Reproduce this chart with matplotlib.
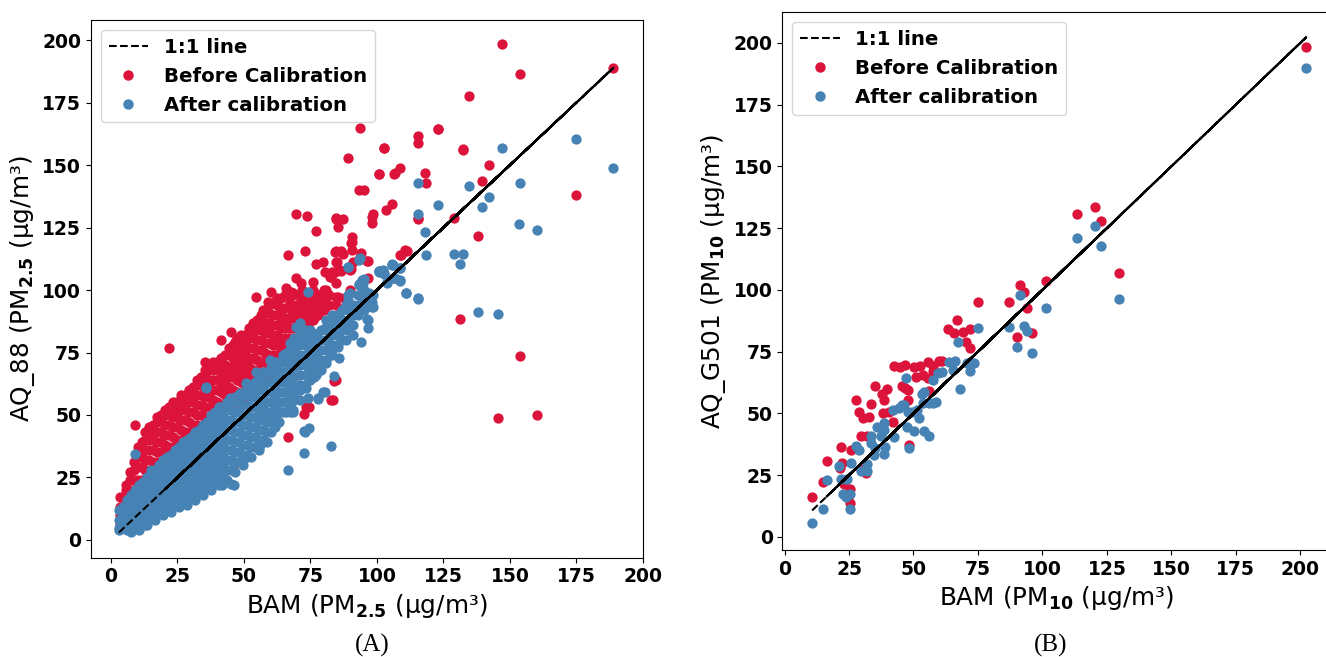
import matplotlib
matplotlib.use("Agg")
import matplotlib.pyplot as plt
from matplotlib.lines import Line2D

plt.rcParams["path.simplify"] = False  # keep every back-and-forth pass of the 1:1 line

RED = "#dc143c"   # crimson
BLUE = "#4682b4"  # steelblue

# ---------------- (A) AQ_88 vs BAM, PM2.5 ----------------
# dense part of the cloud, grouped as (BAM value, [sensor readings])
before25_core = [
    (3.5, [6, 10, 13, 17]), (5.5, [8, 12, 16, 20, 22]), (7.0, [15, 19, 24, 27]),
    (8.5, [16, 20, 24, 28, 31]), (10.0, [20, 24, 29, 33, 37]),
    (11.5, [20, 24, 29, 33, 37, 39]), (13.0, [24, 28, 32, 36, 40, 43]),
    (14.5, [23, 27, 32, 36, 40, 43, 45]), (16.0, [27, 31, 36, 40, 43, 46]),
    (17.5, [27, 31, 35, 39, 43, 47, 49]), (19.0, [30, 35, 39, 43, 47, 50]),
    (20.5, [30, 34, 38, 42, 46, 50, 52]), (22.0, [33, 37, 42, 46, 50, 53]),
    (23.5, [33, 37, 41, 45, 49, 53, 55]), (25.0, [36, 40, 45, 49, 52, 55]),
    (26.5, [36, 40, 44, 48, 52, 56, 58]), (28.0, [39, 43, 48, 52, 55, 58]),
    (29.5, [39, 43, 47, 51, 55, 59, 60]), (31.0, [42, 46, 51, 55, 58, 61]),
    (32.5, [42, 46, 50, 54, 58, 62, 64]), (34.0, [45, 50, 54, 58, 62, 65]),
    (35.5, [45, 49, 53, 57, 61, 65, 68]), (37.0, [48, 53, 57, 61, 64, 68]),
    (38.5, [48, 52, 56, 60, 64, 68, 71]), (40.0, [51, 55, 60, 64, 68, 71]),
    (41.5, [50, 54, 59, 63, 67, 71, 73]), (43.0, [53, 58, 62, 66, 70, 74]),
    (44.5, [53, 57, 61, 65, 69, 74, 77]), (46.0, [56, 60, 65, 69, 73, 78]),
    (47.5, [55, 59, 64, 68, 72, 76, 79, 81]), (49.0, [58, 63, 67, 71, 75, 79, 82]),
    (50.5, [57, 62, 66, 70, 74, 78, 82]), (52.0, [61, 65, 69, 73, 77, 81, 85]),
    (53.5, [60, 64, 68, 73, 77, 81, 85, 87]), (55.0, [64, 68, 72, 76, 80, 84, 88]),
    (56.5, [63, 67, 71, 76, 80, 84, 88, 90]), (58.0, [67, 71, 75, 79, 83, 87, 91]),
    (59.5, [66, 70, 74, 79, 83, 87, 91, 94]), (61.0, [70, 74, 78, 82, 86, 90, 95]),
    (62.5, [70, 74, 78, 82, 86, 90, 94, 97]), (64.0, [73, 77, 81, 85, 89, 93, 97]),
    (65.5, [73, 77, 81, 85, 89, 93, 98]), (67.0, [77, 81, 85, 89, 93, 97]),
    (68.5, [77, 81, 85, 89, 93, 99]), (70.0, [81, 85, 90, 94, 98]),
    (72.0, [84, 88, 92, 96, 100]), (74.0, [86, 90, 94, 98]), (76.0, [88, 92, 96, 100]),
    (78.0, [90, 94, 98]), (80.0, [92, 96, 100]), (82.0, [94, 98]),
]
before25_spread = [
    (147.1, 198.3), (153.9, 186.3), (188.9, 188.8), (134.7, 177.7), (122.9, 164.3),
    (115.5, 161.6), (115.5, 158.9), (102.7, 156.8), (93.7, 164.7), (89.3, 152.7),
    (132.4, 156.3), (142.3, 149.9), (139.5, 143.6), (175.0, 138.0), (118.0, 147.0),
    (118.3, 142.9), (108.7, 148.7), (106.5, 146.4), (100.6, 146.3), (93.2, 139.9),
    (95.1, 140.0), (105.5, 134.4), (103.5, 132.0), (98.3, 129.4), (98.3, 127.0),
    (115.5, 128.4), (129.0, 128.7), (137.8, 121.7), (69.7, 130.4), (73.8, 129.6),
    (77.1, 123.5), (84.5, 128.5), (87.2, 128.5), (85.3, 125.1), (90.7, 121.1),
    (90.7, 119.1), (90.7, 116.0), (84.5, 115.5), (86.6, 115.5), (93.7, 113.4),
    (96.4, 111.6), (110.7, 116.0), (108.7, 114.0), (66.7, 114.0), (73.1, 115.6),
    (77.1, 110.4), (84.5, 111.3), (86.2, 108.0), (90.1, 108.3), (89.7, 100.1),
    (131.3, 88.4), (153.7, 73.6), (145.5, 48.7), (160.3, 50.0), (22.0, 76.9),
    (8.9, 45.9), (66.5, 41.3), (46.0, 28.4), (82.8, 56.0), (74.4, 53.3),
    (72.4, 50.4), (76.9, 69.7), (83.9, 63.5), (79.9, 111.3), (85.5, 108.0),
    (91.0, 111.3), (80.5, 107.3), (83.0, 107.3), (82.8, 105.3), (69.7, 104.7),
    (71.6, 102.7), (65.9, 100.7), (67.8, 99.3), (60.3, 99.3), (54.7, 97.3),
    (59.0, 95.3), (61.5, 95.3), (57.2, 92.0), (58.4, 90.7), (63.4, 90.7),
    (67.2, 94.7), (75.9, 103.3), (79.7, 98.7), (80.9, 100.0), (84.7, 97.3),
    (84.7, 94.0), (87.8, 96.7), (76.5, 88.7), (64.7, 88.7), (65.9, 86.7),
    (68.4, 90.0), (70.9, 89.3), (73.4, 88.0), (54.7, 86.7), (59.0, 84.0),
    (61.5, 81.3), (63.4, 78.7), (45.3, 83.3), (41.5, 80.0), (46.5, 79.3),
    (52.2, 83.3), (50.9, 80.0), (35.3, 71.3), (37.8, 68.7), (42.1, 69.3),
    (45.9, 68.0), (73.4, 53.3), (83.4, 56.0), (84.7, 64.0), (76.5, 69.3),
    (98.4, 130.3), (84.7, 128.7), (115.3, 128.7), (90.3, 118.7), (84.4, 115.3),
    (87.2, 114.4), (85.0, 111.3), (94.0, 114.7), (96.6, 111.5), (109.0, 114.0),
    (111.2, 115.7), (84.4, 107.3), (86.5, 107.6), (89.9, 108.0), (84.7, 102.9),
    (82.2, 105.3), (85.3, 97.3), (96.6, 104.7), (123.1, 164.3), (132.5, 156.1),
    (102.8, 156.7), (100.7, 146.4), (106.6, 146.7),
]
after25_core = [
    (3.0, [4, 8, 12]), (4.5, [5, 9, 13]), (6.0, [4, 8, 12, 16]),
    (7.5, [3, 7, 11, 15, 18]), (9.0, [5, 9, 13, 17, 20]),
    (10.5, [4, 8, 12, 16, 20, 22]), (12.0, [7, 11, 15, 19, 23]),
    (13.5, [6, 10, 14, 18, 22, 25]), (15.0, [9, 13, 17, 21, 25, 28]),
    (16.5, [8, 12, 16, 20, 24, 28]), (18.0, [11, 15, 19, 23, 27, 30]),
    (19.5, [10, 14, 18, 22, 26, 30, 32]), (21.0, [13, 17, 21, 25, 29, 33]),
    (22.5, [11, 15, 19, 23, 27, 31, 34]), (24.0, [14, 18, 22, 26, 30, 34, 36]),
    (25.5, [13, 17, 21, 25, 29, 33, 37]), (27.0, [15, 19, 23, 27, 31, 35, 39]),
    (28.5, [14, 18, 22, 26, 30, 34, 38, 40]), (30.0, [17, 21, 25, 29, 33, 37, 41]),
    (31.5, [16, 20, 24, 28, 32, 36, 40, 43]), (33.0, [19, 23, 27, 31, 35, 39, 44]),
    (34.5, [18, 22, 26, 30, 34, 38, 42, 46]), (36.0, [21, 25, 29, 33, 37, 41, 45, 47]),
    (37.5, [20, 24, 28, 32, 36, 40, 44, 48, 50]),
    (39.0, [23, 27, 31, 35, 39, 43, 47, 51]),
    (40.5, [22, 26, 30, 34, 38, 42, 46, 50, 53]),
    (42.0, [25, 29, 33, 37, 41, 45, 49, 53]),
    (43.5, [24, 28, 32, 36, 40, 44, 48, 52, 55]),
    (45.0, [28, 32, 36, 40, 44, 48, 52, 55]),
    (46.5, [27, 31, 35, 39, 43, 47, 51, 55, 57]),
    (48.0, [31, 35, 39, 43, 47, 51, 55, 58]),
    (49.5, [30, 34, 38, 42, 46, 50, 54, 58]),
    (51.0, [34, 38, 42, 46, 50, 54, 58, 61]),
    (52.5, [33, 37, 41, 45, 49, 53, 57, 61]),
    (54.0, [37, 41, 45, 49, 53, 57, 61, 63]),
    (55.5, [36, 40, 44, 48, 52, 56, 60, 64]),
    (57.0, [40, 44, 48, 52, 56, 60, 64, 67]),
    (58.5, [39, 43, 47, 51, 55, 59, 63, 67]),
    (60.0, [43, 47, 51, 55, 59, 63, 67, 69]),
    (61.5, [45, 49, 53, 57, 61, 65, 69, 71]),
    (63.0, [47, 51, 55, 59, 63, 67, 71]),
    (64.5, [51, 55, 59, 63, 67, 71, 74]),
    (66.0, [51, 55, 59, 63, 67, 71, 75]),
    (67.5, [54, 56, 60, 64, 68, 72, 76, 79]),
    (69.0, [57, 61, 65, 69, 73, 77, 81]),
    (71.0, [60, 62, 66, 70, 74, 78, 82]),
    (73.0, [62, 66, 70, 74, 78, 82]), (75.0, [64, 68, 72, 76, 80, 84]),
    (77.0, [66, 70, 74, 78, 82]), (79.0, [68, 72, 76, 80, 84]),
    (81.0, [72, 76, 80, 84, 88]), (83.0, [74, 78, 82, 86, 90]),
    (85.0, [78, 82, 86, 90]), (87.0, [80, 84, 88, 92]), (89.0, [84, 88, 92, 96]),
    (91.0, [86, 90, 94]), (93.0, [90, 94, 98]), (95.0, [92, 96, 100]),
    (97.0, [95, 99]),
]
after25_spread = [
    (175.0, 160.4), (188.8, 149.0), (147.1, 156.9), (153.9, 142.7), (134.7, 141.7),
    (115.5, 142.9), (122.9, 133.9), (139.5, 133.2), (142.3, 137.1), (115.5, 130.3),
    (118.0, 123.2), (153.5, 126.4), (160.3, 124.0), (118.3, 114.0), (129.1, 114.3),
    (132.4, 114.3), (131.3, 110.3), (105.5, 110.1), (108.7, 108.8), (100.6, 107.5),
    (102.7, 106.4), (106.5, 105.0), (108.7, 103.7), (103.6, 102.7), (110.9, 98.7),
    (115.5, 96.3), (137.8, 91.3), (145.5, 90.3), (89.3, 109.1), (93.7, 112.9),
    (94.5, 104.2), (94.5, 102.3), (73.9, 99.3), (89.3, 98.0), (98.3, 95.3),
    (98.3, 93.3), (96.4, 88.3), (90.7, 92.7), (82.8, 37.7), (72.4, 34.9),
    (66.5, 28.0), (41.6, 22.0), (45.0, 22.5), (46.3, 22.0), (49.9, 32.3),
    (56.1, 37.9), (68.3, 51.3), (74.4, 44.7), (72.4, 43.7), (83.9, 65.7),
    (77.9, 56.5), (80.4, 59.3), (8.9, 34.3), (35.9, 60.8), (30.4, 17.1),
    (34.2, 19.3), (16.8, 10.0), (12.8, 5.9), (3.2, 4.7), (4.1, 12.7),
    (89.1, 109.3), (93.4, 112.0), (100.9, 107.3), (106.0, 110.0), (102.2, 108.0),
    (106.0, 104.7), (94.7, 102.7), (93.4, 102.0), (98.4, 98.0), (98.4, 93.3),
    (96.6, 88.0), (96.6, 84.7), (89.7, 98.7), (88.4, 94.0), (85.9, 90.0),
    (83.4, 86.7), (87.8, 87.3), (85.9, 82.7), (90.9, 82.0), (94.0, 79.3),
    (88.4, 80.0), (80.3, 84.7), (81.5, 79.3), (85.3, 77.3), (82.8, 75.3),
    (85.9, 72.7), (80.9, 70.7), (75.9, 82.7), (72.2, 80.0), (73.4, 73.3),
    (77.2, 72.0), (76.5, 65.3), (73.4, 60.7), (79.7, 59.3), (77.8, 56.7),
    (69.0, 56.0), (67.2, 51.3), (72.8, 43.3), (69.7, 85.3), (70.9, 86.7),
    (72.8, 84.0), (68.4, 77.3), (63.4, 70.7), (59.7, 72.0), (54.7, 67.3),
    (50.9, 62.7), (56.5, 64.0), (35.9, 61.3), (40.9, 53.3), (44.6, 56.7),
    (48.4, 58.7), (53.4, 59.3), (57.2, 53.3), (62.2, 46.7), (63.4, 51.3),
    (68.4, 52.0), (70.9, 56.0), (74.0, 56.7), (57.8, 49.3), (100.6, 107.6),
    (102.8, 106.7), (105.5, 110.3), (108.7, 108.9), (106.6, 104.9), (108.7, 104.0),
    (103.7, 103.3), (95.2, 104.4), (93.4, 102.4), (110.9, 98.7), (115.3, 96.7),
]

# ---------------- (B) AQ_G501 vs BAM, PM10 ----------------
before10 = [
    (10.7, 16.2), (15.0, 22.1), (16.3, 30.6), (21.9, 36.3), (22.4, 30.0),
    (23.2, 21.5), (25.2, 19.2), (25.2, 13.7), (25.7, 35.0), (21.5, 28.0),
    (27.9, 55.6), (28.8, 50.7), (30.3, 48.0), (32.6, 48.5), (33.5, 53.9),
    (31.5, 25.8), (29.5, 27.6), (29.6, 41.0), (32.0, 41.0), (35.1, 60.9),
    (37.6, 57.9), (38.6, 55.5), (39.7, 59.8), (38.2, 50.0), (40.4, 50.7),
    (42.0, 46.4), (42.5, 69.3), (44.7, 68.6), (46.9, 69.6), (45.5, 60.9),
    (46.7, 60.3), (47.8, 59.5), (47.8, 55.6), (50.3, 68.6), (52.5, 69.3),
    (55.8, 70.9), (57.7, 69.0), (59.9, 71.3), (51.1, 64.6), (53.8, 65.6),
    (55.5, 64.3), (57.4, 67.0), (56.1, 58.9), (48.3, 37.4), (58.5, 66.9),
    (61.1, 71.3), (63.3, 84.1), (66.9, 87.8), (65.8, 82.5), (69.3, 82.8),
    (70.5, 79.0), (72.1, 76.6), (71.9, 84.1), (74.9, 94.9), (87.0, 94.9),
    (90.3, 80.8), (95.8, 82.6), (94.0, 92.6), (91.2, 102.0), (93.0, 99.2),
    (101.3, 103.5), (113.3, 130.8), (120.2, 133.5), (122.9, 127.7), (129.8, 107.0),
    (202.3, 198.4),
]
after10 = [
    (10.7, 5.7), (15.0, 11.3), (16.3, 22.9), (21.0, 28.7), (21.9, 23.3),
    (22.7, 17.2), (23.7, 16.2), (25.4, 17.2), (25.5, 11.3), (25.9, 29.9),
    (24.1, 23.6), (27.9, 36.7), (28.7, 35.0), (29.8, 26.6), (32.0, 26.6),
    (32.0, 29.6), (34.8, 33.0), (35.0, 36.1), (33.5, 41.0), (35.7, 44.3),
    (38.6, 46.0), (38.9, 36.2), (38.6, 33.5), (42.3, 40.3), (38.7, 43.3),
    (37.3, 41.0), (33.7, 38.0), (42.0, 51.3), (44.4, 52.1), (45.5, 53.4),
    (47.0, 64.3), (47.5, 44.4), (47.8, 50.7), (50.3, 43.0), (52.0, 48.0),
    (53.3, 58.0), (53.8, 54.4), (56.1, 54.4), (57.5, 54.0), (57.7, 63.6),
    (59.6, 66.5), (53.9, 43.0), (56.1, 41.0), (48.3, 35.8), (46.2, 53.4),
    (49.5, 50.7), (51.5, 51.4), (54.1, 58.8), (58.7, 54.8), (63.9, 70.6),
    (66.1, 71.3), (67.1, 78.7), (67.9, 59.9), (70.7, 70.4), (72.1, 67.2),
    (72.1, 69.8), (65.3, 67.6), (61.1, 66.9), (73.3, 70.3), (75.1, 84.4),
    (87.0, 85.1), (90.3, 77.0), (92.8, 85.5), (94.2, 83.5), (95.8, 74.6),
    (91.2, 97.8), (101.3, 92.8), (113.3, 121.2), (120.2, 125.8), (122.9, 117.6),
    (129.8, 96.4), (202.3, 189.7),
]

ticks = [0, 25, 50, 75, 100, 125, 150, 175, 200]


def expand(columns):
    xs, ys = [], []
    for x, vals in columns:
        for v in vals:
            xs.append(x)
            ys.append(v)
    return xs, ys


def split(pairs):
    return [p[0] for p in pairs], [p[1] for p in pairs]


def line_path(xs, cut):
    # 1:1 line drawn through the measured BAM values: once up through the low end,
    # then back and forth over the rest, so the dashes overlap there
    low = sorted(x for x in xs if x < cut)
    high = sorted(x for x in xs if x >= cut)
    path = list(low)
    i, j = 0, len(high) - 1
    while i <= j:
        path.append(high[i])
        if i != j:
            path.append(high[j])
        i += 1
        j -= 1
    return path


def draw(ax, bx, by, ax_x, ax_y, cut, xlabel, ylabel, xlim, ylim):
    ax.scatter(bx, by, s=55, color=RED, linewidths=0)
    ax.scatter(ax_x, ax_y, s=55, color=BLUE, linewidths=0)
    lx = line_path(bx + ax_x, cut)
    ax.plot(lx, lx, "k--", lw=1.5)
    ax.set_xlim(*xlim)
    ax.set_ylim(*ylim)
    ax.set_xticks(ticks)
    ax.set_yticks(ticks)
    ax.tick_params(labelsize=13.5)
    for lab in ax.get_xticklabels() + ax.get_yticklabels():
        lab.set_fontweight("bold")
    ax.set_xlabel(xlabel, fontsize=17.8)
    ax.set_ylabel(ylabel, fontsize=17.8)
    handles = [
        Line2D([], [], color="k", ls="--", lw=1.5),
        Line2D([], [], marker="o", ls="", color=RED, markersize=6.5),
        Line2D([], [], marker="o", ls="", color=BLUE, markersize=6.5),
    ]
    ax.legend(handles, ["1:1 line", "Before Calibration", "After calibration"],
              loc="upper left", prop={"weight": "bold", "size": 14.2})


fig = plt.figure(figsize=(13.26, 6.57), dpi=100)

axA = fig.add_axes([0.0686, 0.1511, 0.4163, 0.8184])
cx, cy = expand(before25_core)
sx, sy = split(before25_spread)
bx_a, by_a = cx + sx, cy + sy
cx, cy = expand(after25_core)
sx, sy = split(after25_spread)
ax_a, ay_a = cx + sx, cy + sy
draw(axA, bx_a, by_a, ax_a, ay_a, 20,
     r"BAM (PM$_{\mathbf{2.5}}$ (µg/m³)", r"AQ_88 (PM$_{\mathbf{2.5}}$ (µg/m³)",
     (-7.5, 199.6), (-7.1, 208))

axB = fig.add_axes([0.5901, 0.1629, 0.4129, 0.8181])
bx_b, by_b = split(before10)
ax_b, ay_b = split(after10)
draw(axB, bx_b, by_b, ax_b, ay_b, 16,
     r"BAM (PM$_{\mathbf{10}}$ (µg/m³)", r"AQ_G501 (PM$_{\mathbf{10}}$ (µg/m³)",
     (-0.8, 211.5), (-5.3, 212.3))

fig.text(372 / 1326, 0.018, "(A)", ha="center", va="center",
         family="Liberation Serif", fontsize=18)
fig.text(1051 / 1326, 0.018, "(B)", ha="center", va="center",
         family="Liberation Serif", fontsize=18)

fig.savefig("out.png", dpi=100)
